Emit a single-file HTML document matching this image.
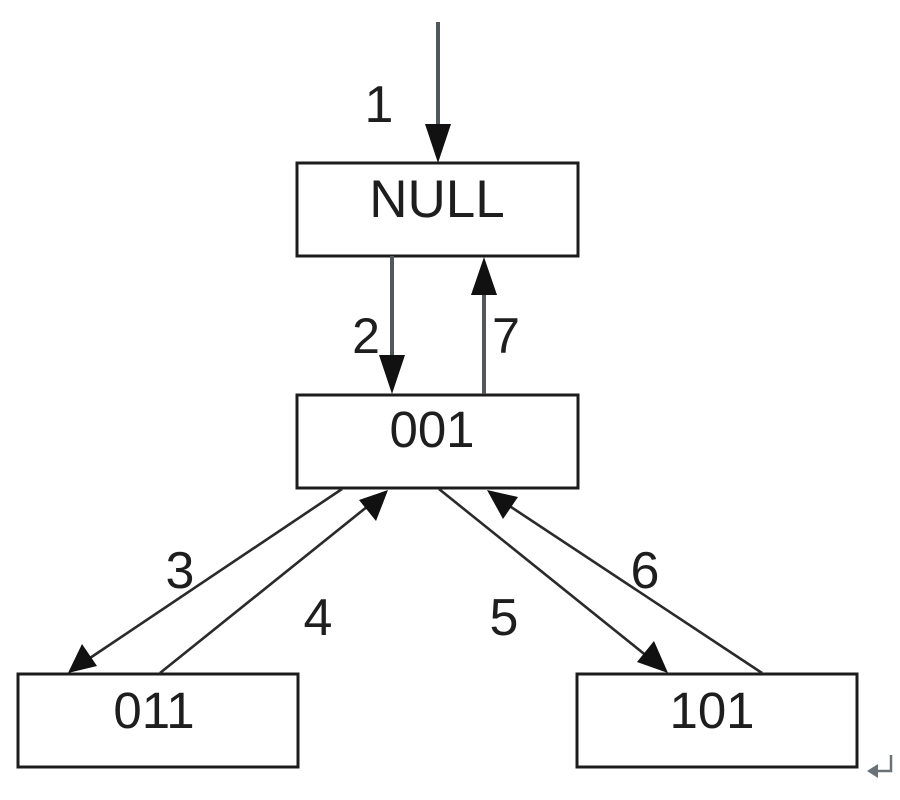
<!DOCTYPE html>
<html>
<head>
<meta charset="utf-8">
<style>
  html, body { margin: 0; padding: 0; background: #ffffff; }
  body { width: 900px; height: 800px; overflow: hidden; }
  svg { display: block; }
  text { font-family: "Liberation Sans", Arial, sans-serif; fill: #1e1e1e; }
</style>
</head>
<body>
<svg width="900" height="800" viewBox="0 0 900 800" xmlns="http://www.w3.org/2000/svg">
  <!-- Boxes -->
  <rect x="297" y="163" width="281" height="93" fill="#fff" stroke="#1c1c1c" stroke-width="3"/>
  <rect x="297" y="395" width="281" height="93" fill="#fff" stroke="#1c1c1c" stroke-width="3"/>
  <rect x="18" y="674" width="280" height="93" fill="#fff" stroke="#1c1c1c" stroke-width="3"/>
  <rect x="577" y="674" width="280" height="93" fill="#fff" stroke="#1c1c1c" stroke-width="3"/>

  <!-- Box labels -->
  <text x="437" y="217" font-size="53" text-anchor="middle">NULL</text>
  <text x="432" y="447" font-size="51" text-anchor="middle">001</text>
  <text x="154" y="728" font-size="51" text-anchor="middle">011</text>
  <text x="712" y="728" font-size="51" text-anchor="middle">101</text>

  <!-- Arrow 1: entry into NULL -->
  <line x1="438" y1="22" x2="438" y2="128" stroke="#50585c" stroke-width="4"/>
  <polygon points="425,124 451,124 438,163" fill="#111"/>

  <!-- Arrow 2: NULL -> 001 -->
  <line x1="392" y1="256" x2="392" y2="360" stroke="#50585c" stroke-width="4"/>
  <polygon points="379,355 405,355 392,394" fill="#111"/>

  <!-- Arrow 7: 001 -> NULL -->
  <line x1="484" y1="394" x2="484" y2="290" stroke="#50585c" stroke-width="4"/>
  <polygon points="471,295 497,295 484,257" fill="#111"/>

  <!-- Arrow 3: 001 -> 011 -->
  <line x1="342" y1="489" x2="90" y2="658" stroke="#2a2a2a" stroke-width="2.6"/>
  <polygon points="68,673 82,644 97,666" fill="#111"/>

  <!-- Arrow 4: 011 -> 001 -->
  <line x1="160" y1="673" x2="368" y2="506" stroke="#2a2a2a" stroke-width="2.6"/>
  <polygon points="388,490 376,521 359,500" fill="#111"/>

  <!-- Arrow 5: 001 -> 101 -->
  <line x1="439" y1="489" x2="648" y2="657" stroke="#2a2a2a" stroke-width="2.6"/>
  <polygon points="668,673 637,662 654,641" fill="#111"/>

  <!-- Arrow 6: 101 -> 001 -->
  <line x1="762" y1="673" x2="508" y2="505" stroke="#2a2a2a" stroke-width="2.6"/>
  <polygon points="487,490 518,497 503,519" fill="#111"/>

  <!-- Connector labels -->
  <text x="379" y="122" font-size="52" text-anchor="middle">1</text>
  <text x="366" y="353" font-size="50" text-anchor="middle">2</text>
  <text x="506" y="353" font-size="50" text-anchor="middle">7</text>
  <text x="180" y="588" font-size="52" text-anchor="middle">3</text>
  <text x="318" y="635" font-size="52" text-anchor="middle">4</text>
  <text x="504" y="635" font-size="52" text-anchor="middle">5</text>
  <text x="645" y="588" font-size="52" text-anchor="middle">6</text>

  <!-- Paragraph return mark -->
  <path d="M891,755 L891,771 L875,771" fill="none" stroke="#6a7278" stroke-width="2.5"/>
  <polygon points="867,771 878,764 878,778" fill="#6a7278"/>
</svg>
</body>
</html>
